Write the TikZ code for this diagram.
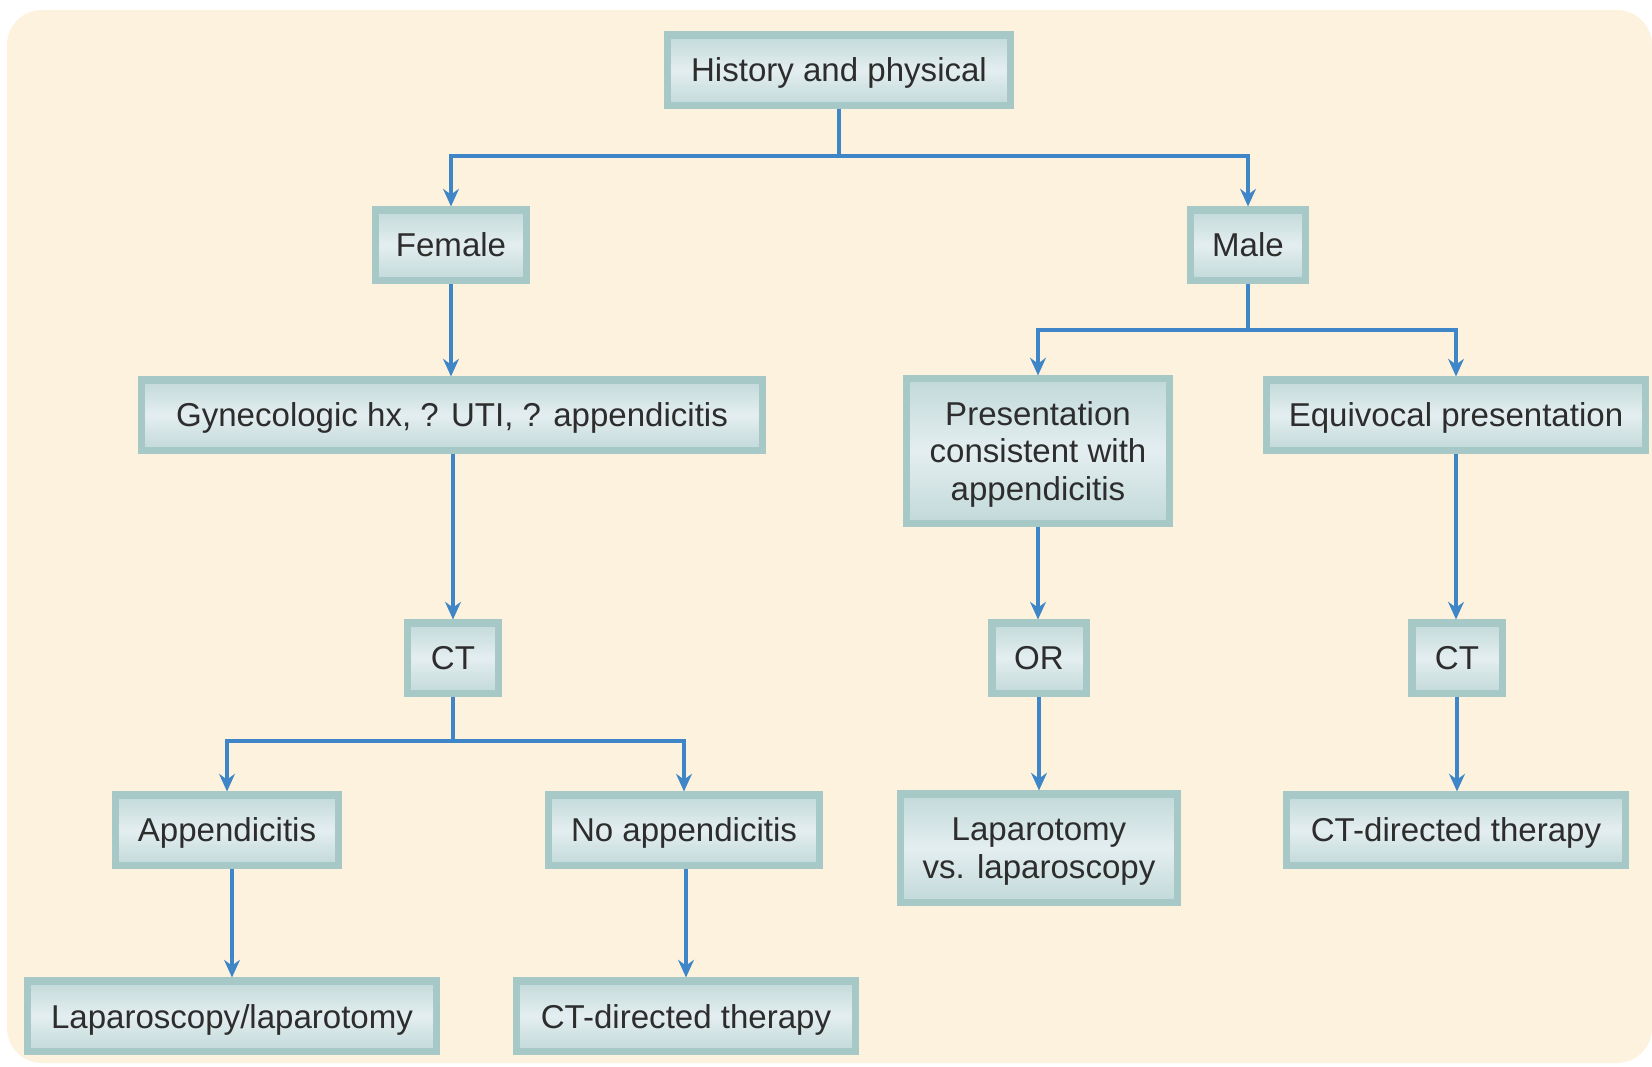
\documentclass[tikz,border=0pt]{standalone}
\usepackage{fontspec}
\setmainfont{Liberation Sans}
\usepackage{xcolor}
\usetikzlibrary{arrows.meta, positioning, calc}
\definecolor{creambg}{RGB}{252, 242, 221}
\definecolor{boxedge}{RGB}{166, 200, 198}
\definecolor{boxfill}{RGB}{228, 238, 240}
\definecolor{arrowblue}{RGB}{62, 134, 200}
\definecolor{textgray}{RGB}{45, 45, 45}

\begin{document}
\begin{tikzpicture}[
    x=0.01cm, y=-0.01cm,
    box/.style={draw=boxedge, line width=2pt, top color=boxedge!55!boxfill,
                bottom color=boxedge!55!boxfill, middle color=boxfill,
                minimum height=0.70cm, inner sep=0pt, align=center, text depth=0pt,
                text=textgray, font=\fontsize{9.4}{10.8}\selectfont},
    conn/.style={draw=arrowblue, line width=1pt, -{Stealth[length=5pt, width=4.5pt]}}
]
    \useasboundingbox (0,0) rectangle (1652,1066);

    % Background
    \fill[creambg, rounded corners=0.35cm] (7,10) rectangle (1652,1063);

    % Top
    \node[box, minimum width=3.43cm] (history) at (839,70) {History and physical};
    \node[box, minimum width=1.51cm] (female) at (451,245) {Female};
    \node[box, minimum width=1.15cm] (male) at (1248,245) {Male};

    % Female branch
    \node[box, minimum width=6.21cm] (gyneco) at (452,415)
        {Gynecologic hx, ? UTI, ? appendicitis};
    \node[box, minimum width=0.90cm] (ctleft) at (453,658) {CT};
    \node[box, minimum width=2.23cm] (appendicitis) at (227,830) {Appendicitis};
    \node[box, minimum width=2.71cm] (noappendicitis) at (684,830) {No appendicitis};
    \node[box, minimum width=4.08cm] (lapslash) at (232,1016) {Laparoscopy/laparotomy};
    \node[box, minimum width=3.39cm] (ctdirleft) at (686,1016) {CT-directed therapy};

    % Male branch
    \node[box, minimum width=2.63cm, minimum height=1.44cm] (consistent) at (1038,451)
        {Presentation\\consistent with\\appendicitis};
    \node[box, minimum width=3.79cm] (equivocal) at (1456,415) {Equivocal presentation};
    \node[box, minimum width=0.94cm] (or) at (1039,658) {OR};
    \node[box, minimum width=0.90cm] (ctright) at (1457,658) {CT};
    \node[box, minimum width=2.77cm, minimum height=1.08cm] (lapvs) at (1039,848)
        {Laparotomy\\vs. laparoscopy};
    \node[box, minimum width=3.39cm] (ctdirright) at (1456,830) {CT-directed therapy};

    % Split points
    \coordinate (topsplit) at (839,156);
    \coordinate (malesplit) at (1248,330);
    \coordinate (ctsplit) at (453,741);

    % Connectors
    \draw[conn] (history.south) -- (topsplit) -| (female.north);
    \draw[conn] (topsplit) -| (male.north);
    \draw[conn] (female.south) -- (female.south |- gyneco.north);
    \draw[conn] (gyneco.south -| ctleft.north) -- (ctleft.north);
    \draw[conn] (ctleft.south) -- (ctsplit) -| (appendicitis.north);
    \draw[conn] (ctsplit) -| (noappendicitis.north);
    \draw[conn] (lapslash.north |- appendicitis.south) -- (lapslash.north);
    \draw[conn] (ctdirleft.north |- noappendicitis.south) -- (ctdirleft.north);
    \draw[conn] (male.south) -- (malesplit) -| (consistent.north);
    \draw[conn] (malesplit) -| (equivocal.north);
    \draw[conn] (consistent.south) -- (consistent.south |- or.north);
    \draw[conn] (or.south) -- (or.south |- lapvs.north);
    \draw[conn] (equivocal.south) -- (equivocal.south |- ctright.north);
    \draw[conn] (ctright.south) -- (ctright.south |- ctdirright.north);
\end{tikzpicture}
\end{document}
